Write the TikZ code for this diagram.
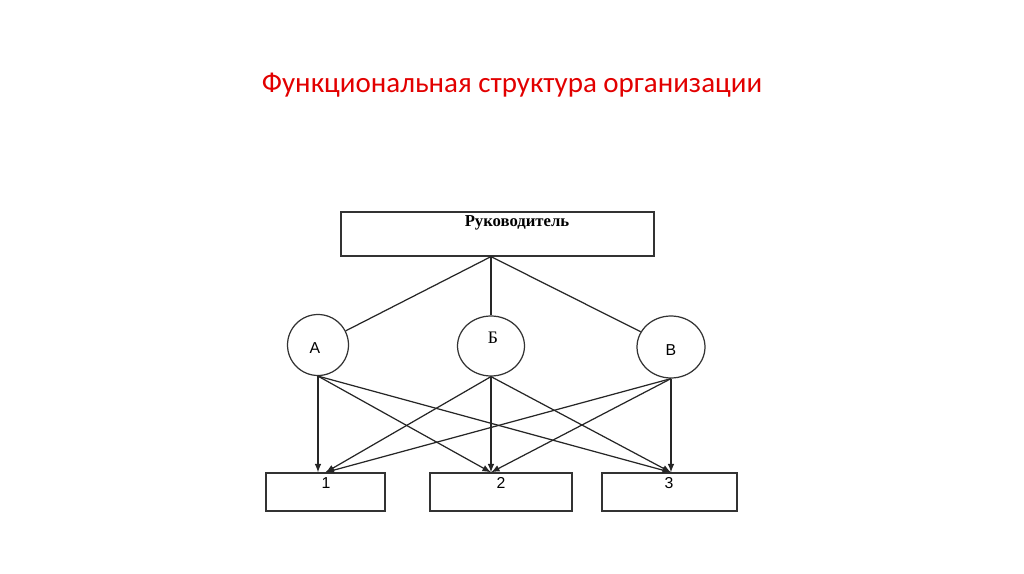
\documentclass[tikz,border=0pt]{standalone}
\usepackage{fontspec}
\setmainfont{Liberation Serif}
\newfontfamily\titlefont{Carlito}
\newfontfamily\sanslabel{Liberation Sans}
\usetikzlibrary{shapes.geometric}
\definecolor{titlered}{RGB}{226,0,0}

\begin{document}
\begin{tikzpicture}[x=0.02cm,y=-0.02cm,
  boxnode/.style={draw=black!80, line width=0.7pt, rectangle, inner sep=0pt},
  unitnode/.style={draw=black!80, line width=0.7pt, ellipse, inner sep=0pt},
  link/.style={draw=black!85, line width=0.7pt},
  arr/.style={link, ->, >=latex}]
\useasboundingbox (0,0) rectangle (1024,574);
% ---- title ----
\node (title) at (512,85) {\titlefont\fontsize{16.5}{20}\selectfont\color{titlered}Функциональная структура организации};
% ---- head ----
\node[boxnode, minimum width=6.26cm, minimum height=0.88cm] (boss) at (497.5,234) {};
\node (bosstext) at (517,223) {\fontsize{9.5}{11}\selectfont\bfseries Руководитель};
% ---- functional units ----
\foreach \n/\x/\y/\w/\h in {A/318/345/1.22/1.22, B/491/346/1.34/1.2, V/671/347/1.36/1.24}
  \node[unitnode, minimum width=\w cm, minimum height=\h cm] (unit\n) at (\x,\y) {};
\node (labA) at (315,348) {\sanslabel\fontsize{9}{10}\selectfont А};
\node (labB) at (493,338) {\fontsize{10}{11}\selectfont Б};
\node (labV) at (671,350) {\sanslabel\fontsize{9}{10}\selectfont В};
\coordinate (apex) at (unitB.north |- boss.south);
\foreach \n in {A,B,V} \draw[link] (apex) -- (unit\n);
% ---- subordinate units ----
\foreach \n/\x/\w in {1/325.5/2.38, 2/501/2.84, 3/669.5/2.7}
  \node[boxnode, minimum width=\w cm, minimum height=0.76cm] (box\n) at (\x,492) {};
\foreach \n/\x in {1/326, 2/501, 3/669}
  \node (num\n) at (\x,483) {\sanslabel\fontsize{9}{10}\selectfont\n};
% ---- orders ----
\coordinate (in1a) at (unitA.south |- box1.north);
\coordinate (in1) at (box1.north);
\coordinate (in2) at (unitB.south |- box2.north);
\coordinate (in3) at (unitV.south |- box3.north);
\draw[arr] (unitA.south) -- (in1a);
\foreach \s in {B,V} \draw[arr] (unit\s.south) -- (in1);
\foreach \s in {A,B,V} {
  \draw[arr] (unit\s.south) -- (in2);
  \draw[arr] (unit\s.south) -- (in3);
}
\end{tikzpicture}
\end{document}
